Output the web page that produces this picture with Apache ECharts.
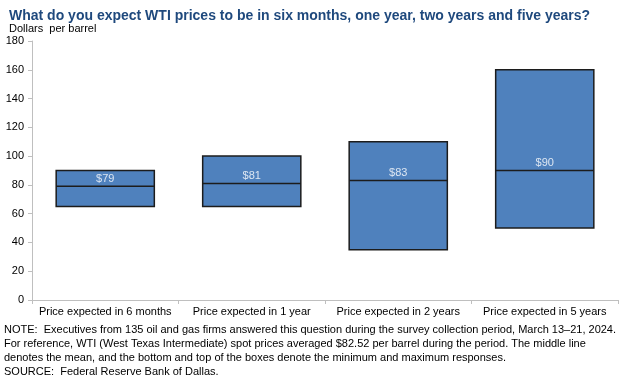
<!DOCTYPE html>
<html><head><meta charset="utf-8">
<script src="https://cdn.jsdelivr.net/npm/echarts@6/dist/echarts.min.js"></script>
<style>html,body{margin:0;padding:0;background:#fff}#c{width:624px;height:379px}</style>
</head><body><div id="c"></div>
<script>
var categories = ['Price expected in 6 months','Price expected in 1 year','Price expected in 2 years','Price expected in 5 years'];
var minValues = [65, 65, 35, 50];
var meanValues = [79, 81, 83, 90];
var maxValues = [90, 100, 110, 160];
var yTicks = [0, 20, 40, 60, 80, 100, 120, 140, 160, 180];

var FONT = 'Liberation Sans, Arial, sans-serif';
var chart = echarts.init(document.getElementById('c'), null, {renderer:'canvas'});
var boxData = categories.map(function(c,i){return [i, minValues[i], meanValues[i], maxValues[i]];});
chart.setOption({
  animation:false,
  textStyle:{fontFamily:FONT},
  title:[
    {text:'What do you expect WTI prices to be in six months, one year, two years and five years?', left:4, top:4,
     textStyle:{fontFamily:FONT, fontSize:14, fontWeight:'bold', color:'#1f497d'}},
    {text:'Dollars  per barrel', left:4, top:18, textStyle:{fontFamily:FONT, fontSize:11, fontWeight:'normal', color:'#000'}}
  ],
  graphic:[{type:'text', left:4, top:323, style:{
    text:'NOTE:  Executives from 135 oil and gas firms answered this question during the survey collection period, March 13–21, 2024.\nFor reference, WTI (West Texas Intermediate) spot prices averaged $82.52 per barrel during the period. The middle line\ndenotes the mean, and the bottom and top of the boxes denote the minimum and maximum responses.\nSOURCE:  Federal Reserve Bank of Dallas.',
    font:'11px '+FONT, fill:'#000', lineHeight:14}}],
  grid:{left:32, right:6, top:41, bottom:79, containLabel:false},
  xAxis:{type:'category', data:categories,
    axisLine:{lineStyle:{color:'#bfbfbf', width:1}},
    axisTick:{show:true, interval:0, alignWithLabel:false, length:4, lineStyle:{color:'#bfbfbf'}},
    axisLabel:{interval:0, color:'#000', fontSize:11, fontFamily:FONT, margin:6},
    splitLine:{show:false}},
  yAxis:{type:'value', min:0, max:180, interval:20,
    axisLine:{show:true, lineStyle:{color:'#bfbfbf'}},
    axisTick:{show:true, length:4, lineStyle:{color:'#bfbfbf'}},
    axisLabel:{color:'#000', fontSize:11, fontFamily:FONT, margin:8,
      formatter:function(v){return yTicks.indexOf(v)>=0 ? String(v) : '';}},
    splitLine:{show:false}},
  series:[{
    type:'custom', data:boxData, encode:{x:0, y:[1,2,3]},
    renderItem:function(params, api){
      var idx = api.value(0);
      var pMin = api.coord([idx, api.value(1)]);
      var pMean = api.coord([idx, api.value(2)]);
      var pMax = api.coord([idx, api.value(3)]);
      var w = api.size([1,0])[0]*0.67;
      var x0 = pMin[0]-w/2;
      return {type:'group', children:[
        {type:'rect', shape:{x:x0, y:pMax[1], width:w, height:pMin[1]-pMax[1]},
         style:{fill:'#4f81bd', stroke:'#1c1c1c', lineWidth:1.5}},
        {type:'line', shape:{x1:x0, y1:pMean[1], x2:x0+w, y2:pMean[1]},
         style:{stroke:'#1c1c1c', lineWidth:1.5}},
        {type:'text', x:pMean[0], y:pMean[1]-2,
         style:{text:'$'+api.value(2), fill:'#dce6f2', font:'11px '+FONT, textAlign:'center', textVerticalAlign:'bottom'}}
      ]};
    }
  }]
});
</script></body></html>
